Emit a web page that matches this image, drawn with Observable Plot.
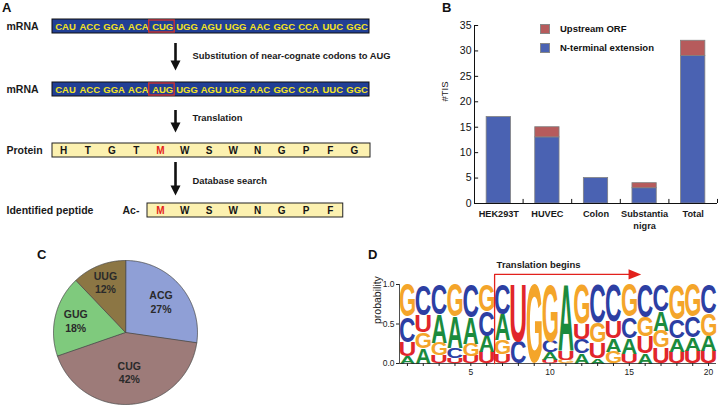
<!DOCTYPE html>
<html><head><meta charset="utf-8">
<script src="https://cdn.jsdelivr.net/npm/d3@7"></script>
<script src="https://cdn.jsdelivr.net/npm/@observablehq/plot@0.6"></script>
<style>
body{margin:0;background:#fff;}
#fig{position:relative;width:719px;height:405px;overflow:hidden;background:#fff;font-family:"Liberation Sans",Arial,sans-serif;color:#111;}
.panel{position:absolute;}
.panel svg{display:block;}
.plab{position:absolute;font-weight:bold;font-size:13px;line-height:13px;}
.leg{position:absolute;font-weight:bold;font-size:9.5px;line-height:10px;white-space:nowrap;}
.sw{position:absolute;width:10px;height:10px;box-sizing:border-box;border:0.8px solid #888;}
</style></head><body><div id="fig"></div>
<script>
// ---------------- Panel A data ----------------
const mrnaCodons = ["CAU","ACC","GGA","ACA","CUG","UGG","AGU","UGG","AAC","GGC","CCA","UUC","GGC"];
const mrnaCodonsSubstituted = ["CAU","ACC","GGA","ACA","AUG","UGG","AGU","UGG","AAC","GGC","CCA","UUC","GGC"];
const proteinSequence = ["H","T","G","T","M","W","S","W","N","G","P","F","G"];
const peptideSequence = ["M","W","S","W","N","G","P","F"];
const startCodonIndex = 4;
const rowLabels = ["mRNA","mRNA","Protein","Identified peptide"];
const stepLabels = ["Substitution of near-cognate codons to AUG","Translation","Database search"];
const peptidePrefix = ["Ac-"];

// ---------------- Panel B data ----------------
const tisCategories = ["HEK293T","HUVEC","Colon","Substantia\nnigra","Total"];
const tisSeries = ["N-terminal extension","Upstream ORF"];
const nTerminalExtension = [17,13,5,3,29];
const upstreamORF = [0,2,0,1,3];
const tisTicks = [0,5,10,15,20,25,30,35];
const tisAxisLabel = ["#TIS"];

// ---------------- Panel C data ----------------
const codonNames = ["ACG","CUG","GUG","UUG"];
const codonPercents = [27,42,18,12];

// ---------------- Panel D data ----------------
const logoPositions = [1,2,3,4,5,6,7,8,9,10,11,12,13,14,15,16,17,18,19,20];
const logoLetters = ["A","C","G","U"];
const probA = [.09,.19,.36,.39,.33,.21,.32,0,0,.10,.84,.13,.07,.17,.20,.13,.25,.17,.17,.19];
const probC = [.32,.39,.38,.13,.42,.31,.38,.28,0,.14,0,.18,.48,.47,.27,.42,.34,.24,.26,.37];
const probG = [.41,.20,.16,.41,.16,.34,.18,0,1.0,.72,.04,.50,.25,.15,.41,.24,.21,.44,.41,.28];
const probU = [.18,.22,.10,.07,.09,.14,.12,.72,0,.04,.12,.19,.20,.21,.12,.21,.20,.15,.16,.16];
const logoYTicks = [0,0.5,1];
const logoXLabels = [5,10,15,20];
const logoAxisLabel = ["probability"];
const translationLabel = ["Translation begins"];
const translationStart = 6.5, translationEnd = 15.75;

// ---------------- styles ----------------
const FONT = "'Liberation Sans', Arial, sans-serif";
const fig = document.getElementById("fig");
function place(node, left, top, w){
  const d = document.createElement("div");
  d.className = "panel"; d.style.left = left+"px"; d.style.top = top+"px"; d.style.width = w+"px";
  d.appendChild(node); fig.appendChild(d);
}
function addDiv(cls, text, left, top, extra){
  const d = document.createElement("div");
  d.className = cls; d.textContent = text; d.style.left = left+"px"; d.style.top = top+"px";
  if (extra) Object.assign(d.style, extra);
  fig.appendChild(d); return d;
}

// ================= Panel A =================
const LA = {x0Codon:65, stepCodon:24.3, x0Aa:63, stepAa:24.25, boxLeft:52, boxRight:369,
  rowY:[26,89,150,210], half:7, arrowX:175, arrows:[[43,70,55],[110,132,117],[162,195,180]],
  labelX:6, stepLabelX:192, prefixX:122};
const codonX = i => LA.x0Codon + i*LA.stepCodon;
const aaX = i => LA.x0Aa + i*LA.stepAa;
const boxesA = [
  {x1:LA.boxLeft, x2:LA.boxRight, y:LA.rowY[0], fill:"#213f95", stroke:"#111"},
  {x1:LA.boxLeft, x2:LA.boxRight, y:LA.rowY[1], fill:"#213f95", stroke:"#111"},
  {x1:LA.boxLeft, x2:LA.boxRight+1, y:LA.rowY[2], fill:"#fcf1b0", stroke:"#222"},
  {x1:aaX(startCodonIndex)-13, x2:aaX(startCodonIndex+peptideSequence.length-1)+13, y:LA.rowY[3], fill:"#fcf1b0", stroke:"#222"}
];
const headPts = LA.arrows.flatMap((a,k)=>[
  {k, x:LA.arrowX-5, y:a[1]-10},{k, x:LA.arrowX+5, y:a[1]-10},{k, x:LA.arrowX, y:a[1]}]);
const plotA = Plot.plot({
  width:372, height:230, margin:0,
  x:{domain:[0,372], range:[0,372], axis:null},
  y:{domain:[0,230], range:[0,230], axis:null},
  color:{type:"identity"},
  style:{background:"transparent", fontFamily:FONT, fontSize:"10px", overflow:"visible"},
  marks:[
    Plot.rect(boxesA, {x1:"x1", x2:"x2", y1:d=>d.y-LA.half, y2:d=>d.y+LA.half, fill:"fill", stroke:"stroke", strokeWidth:1}),
    Plot.text(mrnaCodons, {x:(d,i)=>codonX(i), y:()=>LA.rowY[0], text:d=>d, fill:"#f3e31f", fontWeight:"bold", fontSize:9.5}),
    Plot.text(mrnaCodonsSubstituted, {x:(d,i)=>codonX(i), y:()=>LA.rowY[1], text:d=>d, fill:"#f3e31f", fontWeight:"bold", fontSize:9.5}),
    Plot.rect([0,1], {x1:()=>codonX(startCodonIndex)-13.5, x2:()=>codonX(startCodonIndex)+12, y1:r=>LA.rowY[r]-6, y2:r=>LA.rowY[r]+6, fill:"none", stroke:"#d8322c", strokeWidth:1.3}),
    Plot.text(proteinSequence, {x:(d,i)=>aaX(i), y:()=>LA.rowY[2], text:d=>d, fill:(d,i)=>i===startCodonIndex?"#e3261d":"#151515", fontWeight:"bold", fontSize:10}),
    Plot.text(peptideSequence, {x:(d,i)=>aaX(i+startCodonIndex), y:()=>LA.rowY[3], text:d=>d, fill:(d,i)=>i===0?"#e3261d":"#151515", fontWeight:"bold", fontSize:10}),
    Plot.text(rowLabels, {x:()=>LA.labelX, y:(d,i)=>LA.rowY[i], text:d=>d, textAnchor:"start", fontWeight:"bold", fontSize:10.5, fill:"#1a1a1a"}),
    Plot.text(peptidePrefix, {x:()=>LA.prefixX, y:()=>LA.rowY[3], text:d=>d, textAnchor:"start", fontWeight:"bold", fontSize:10.5, fill:"#1a1a1a"}),
    Plot.text(stepLabels, {x:()=>LA.stepLabelX, y:(d,i)=>LA.arrows[i][2], text:d=>d, textAnchor:"start", fontWeight:"bold", fontSize:9.4, fill:"#1a1a1a"}),
    Plot.ruleX(LA.arrows, {x:()=>LA.arrowX, y1:d=>d[0], y2:d=>d[1]-8, stroke:"#111", strokeWidth:2.6}),
    Plot.line(headPts, {x:"x", y:"y", z:"k", fill:"#111", stroke:"none", curve:"linear-closed"})
  ]
});
place(plotA, 0, 0, 372);

// ================= Panel B =================
const barData = [];
tisCategories.forEach((c,i)=>{
  barData.push({i, type:tisSeries[0], y1:0, y2:nTerminalExtension[i]});
  if (upstreamORF[i] > 0) barData.push({i, type:tisSeries[1], y1:nTerminalExtension[i], y2:nTerminalExtension[i]+upstreamORF[i]});
});
const tisColors = ["#4a62b2","#b65b5c"];
const plotB = Plot.plot({
  width:289, height:234, marginLeft:44, marginRight:2, marginTop:25, marginBottom:31,
  x:{domain:[0,tisCategories.length], axis:null},
  y:{domain:[0,35], ticks:tisTicks, tickSize:0, tickPadding:3, label:null},
  color:{domain:tisSeries, range:tisColors},
  style:{background:"transparent", fontFamily:FONT, fontSize:"10.5px", overflow:"visible", color:"#111"},
  marks:[
    Plot.rect(barData, {x1:d=>d.i+0.25, x2:d=>d.i+0.75, y1:"y1", y2:"y2", fill:"type", stroke:"#808080", strokeWidth:0.8}),
    Plot.ruleY(tisTicks, {x1:0, x2:0.085, stroke:"#111", strokeWidth:1}),
    Plot.ruleX(d3.range(1, tisCategories.length+1), {y1:0, y2:0.8, stroke:"#111", strokeWidth:1}),
    Plot.ruleY([0], {stroke:"#111", strokeWidth:1}),
    Plot.ruleX([0], {stroke:"#111", strokeWidth:1}),
    Plot.text(tisCategories, {x:(d,i)=>i+0.5, y:()=>0, text:d=>d, dy:5, lineAnchor:"top", lineHeight:1.3, fontWeight:"bold", fontSize:9.2, fill:"#1a1a1a"}),
    Plot.text(tisAxisLabel, {frameAnchor:"left", dx:-30, dy:-13, rotate:-90, text:d=>d, fontSize:9.5, fill:"#1a1a1a"})
  ]
});
place(plotB, 430, 0, 289);
// legend
addDiv("sw", "", 540, 24, {background:tisColors[1]});
addDiv("sw", "", 540, 43, {background:tisColors[0]});
addDiv("leg", tisSeries[1], 560, 24);
addDiv("leg", tisSeries[0], 560, 43);

// ================= Panel C =================
const pieColors = ["#8f9fd6","#9d7b79","#7fca7d","#8c7644"];
const R = 72;
const totalPct = d3.sum(codonPercents);
let acc = 0;
const slices = codonNames.map((n,i)=>{
  const a0 = acc/totalPct*2*Math.PI; acc += codonPercents[i];
  const a1 = acc/totalPct*2*Math.PI;
  const angles = d3.range(a0, a1, 0.01).concat([a1]);
  const pts = [{x:0,y:0}].concat(angles.map(a=>({x:R*Math.sin(a), y:R*Math.cos(a)})));
  const frac = codonPercents[i]/totalPct, am = (a0+a1)/2, lr = R*(0.83-0.65*frac);
  return {name:n, pct:codonPercents[i], color:pieColors[i], pts, lx:lr*Math.sin(am), ly:lr*Math.cos(am)};
});
const plotC = Plot.plot({
  width:170, height:160, margin:0,
  x:{domain:[-85,85], axis:null},
  y:{domain:[-78,82], axis:null},
  style:{background:"transparent", fontFamily:FONT, fontSize:"10px", overflow:"visible"},
  marks:[
    ...slices.map(s=>Plot.line(s.pts, {x:"x", y:"y", fill:s.color, stroke:"#4a4a4a", strokeWidth:0.8, curve:"linear-closed"})),
    Plot.text(slices, {x:"lx", y:"ly", text:s=>s.name+"\n"+s.pct+"%", lineHeight:1.3, fontWeight:"bold", fontSize:10.5, fill:"#2a2a2a"})
  ]
});
place(plotC, 40, 250, 170);

// ================= Panel D =================
const letterColors = {A:"#1b8b3d", C:"#2d3fa3", G:"#f4a52a", U:"#e1262b"};
const probs = {A:probA, C:probC, G:probG, U:probU};
const logoRows = [];
logoPositions.forEach((p,i)=>{
  const col = logoLetters.map(L=>({L, v:probs[L][i]})).filter(d=>d.v>0).sort((a,b)=>a.v-b.v);
  let y = 0;
  for (const d of col){ logoRows.push({pos:p, letter:d.L, y0:y, y1:y+d.v}); y += d.v; }
});
const arrowY = 1.127;
const arrowPath = [{x:translationStart,y:0},{x:translationStart,y:arrowY},{x:translationEnd-0.6,y:arrowY}];
const arrowHead = [{x:translationEnd-0.8,y:arrowY+0.065},{x:translationEnd,y:arrowY},{x:translationEnd-0.8,y:arrowY-0.065}];
const plotD = Plot.plot({
  width:359, height:155, marginLeft:39, marginRight:3, marginTop:34, marginBottom:42,
  x:{domain:[0.5,20.5], ticks:logoPositions, tickFormat:d=>logoXLabels.includes(d)?String(d):"", tickSize:3, tickPadding:2, label:null},
  y:{domain:[0,1], ticks:logoYTicks, tickFormat:d3.format(".1f"), tickSize:3, tickPadding:2, label:null},
  color:{domain:logoLetters, range:logoLetters.map(L=>letterColors[L])},
  style:{background:"transparent", fontFamily:FONT, fontSize:"8.5px", overflow:"visible", color:"#222"},
  marks:[
    Plot.text(logoRows, {x:"pos", y:"y0", text:"letter", fill:"letter", fontSize:100, fontWeight:"bold", fontFamily:"Liberation Sans", ariaLabel:"logo"}),
    Plot.ruleY([0], {stroke:"#222", strokeWidth:0.8}),
    Plot.ruleX([0.5], {stroke:"#222", strokeWidth:0.8}),
    Plot.line(arrowPath, {x:"x", y:"y", stroke:"#e2211c", strokeWidth:1.3}),
    Plot.line(arrowHead, {x:"x", y:"y", fill:"#e2211c", stroke:"none", curve:"linear-closed"}),
    Plot.text(translationLabel, {x:()=>translationStart, y:()=>arrowY+0.126, dx:2, text:d=>d, textAnchor:"start", fontWeight:"bold", fontSize:9.5, fill:"#1a1a1a"}),
    Plot.text(logoAxisLabel, {frameAnchor:"left", dx:-22, rotate:-90, text:d=>d, fontSize:10.5, fill:"#222"})
  ]
});
place(plotD, 360, 250, 359);

// stretch logo letters to their probability boxes
(function(){
  const ctx = document.createElement("canvas").getContext("2d");
  ctx.font = "bold 100px 'Liberation Sans'";
  const M = {};
  for (const L of logoLetters){ const m = ctx.measureText(L);
    M[L] = {l:m.actualBoundingBoxLeft, r:m.actualBoundingBoxRight, a:m.actualBoundingBoxAscent, d:m.actualBoundingBoxDescent}; }
  const sxs = plotD.scale("x"), sys = plotD.scale("y");
  const fx = sxs.apply ? v=>sxs.apply(v) : d3.scaleLinear(sxs.domain, sxs.range);
  const fy = sys.apply ? v=>sys.apply(v) : d3.scaleLinear(sys.domain, sys.range);
  let g = plotD.querySelector('g[aria-label="logo"]') || plotD.querySelector('g[font-size="100"]');
  if (!g) return;
  const colW = (fx(2)-fx(1))*0.95;
  g.querySelectorAll("text").forEach((t,k)=>{
    const idx = (typeof t.__data__ === "number") ? t.__data__ : k;
    const d = logoRows[idx]; if (!d) return;
    const m = M[d.letter];
    const xc = fx(d.pos), yB = fy(d.y0), yT = fy(d.y1);
    const xL = xc - colW/2;
    const sx = colW/(m.l+m.r), sy = Math.max(0.001,(yB-yT))/(m.a+m.d);
    const tx = xL + sx*m.l, ty = yB - sy*m.d;
    ["x","y","dy","dx"].forEach(a=>t.removeAttribute(a));
    t.setAttribute("text-anchor","start");
    t.setAttribute("font-size","100");
    t.setAttribute("font-weight","bold");
    t.setAttribute("font-family","Liberation Sans");
    t.setAttribute("transform",`translate(${tx},${ty}) scale(${sx},${sy})`);
  });
})();

// panel labels
addDiv("plab","A",2,1);
addDiv("plab","B",442,1);
addDiv("plab","C",37,248);
addDiv("plab","D",368,248);
</script></body></html>
